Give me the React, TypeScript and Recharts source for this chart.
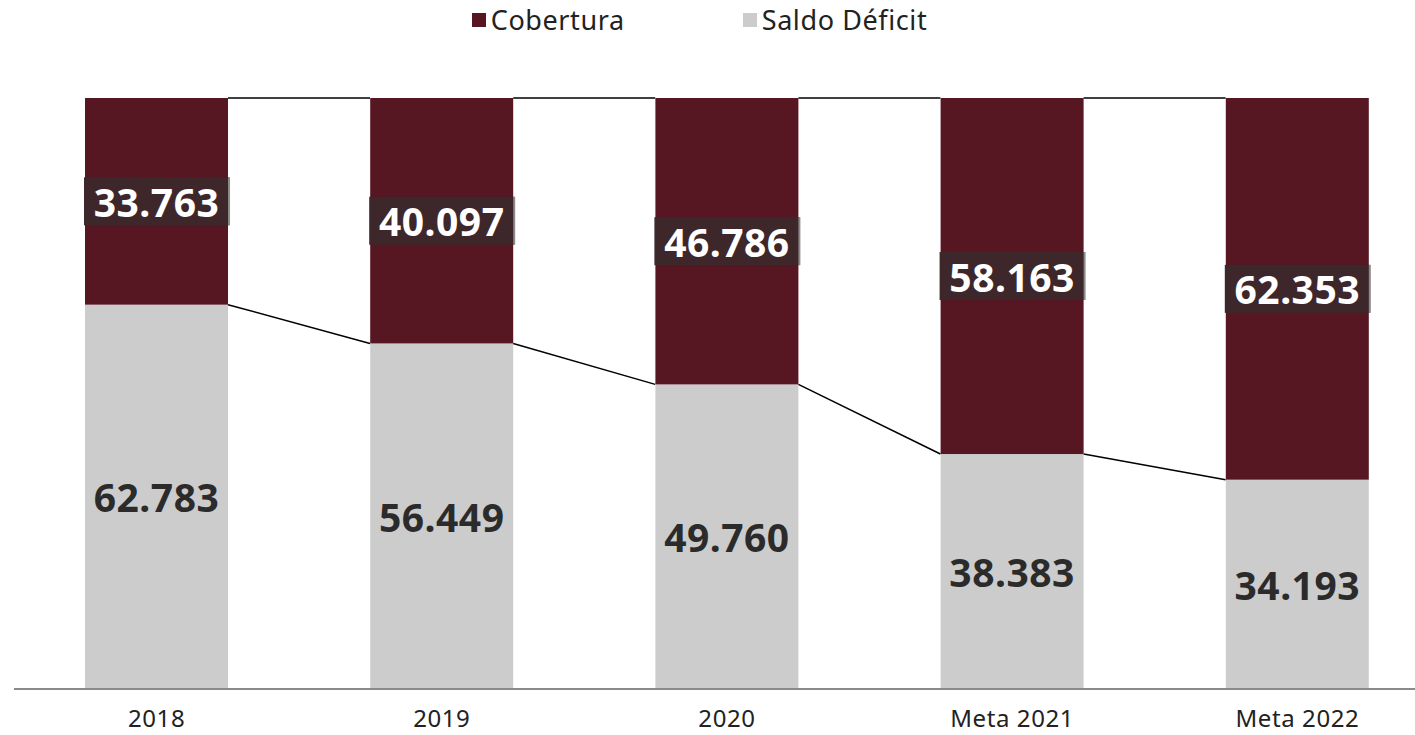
import { BarChart, Bar, XAxis, YAxis, LabelList } from 'recharts'

const years = ['2018', '2019', '2020', 'Meta 2021', 'Meta 2022']
const saldoDeficit = [62783, 56449, 49760, 38383, 34193]
const cobertura = [33763, 40097, 46786, 58163, 62353]

const data = years.map((name, i) => ({ name, saldo: saldoDeficit[i], cobertura: cobertura[i] }))

const GAP = 71
const FONT = '"Noto Sans", "Open Sans", sans-serif'
const fmt = (v: number) => String(v).replace(/\B(?=(\d{3})+(?!\d))/g, '.')

// bar + connector to the next bar's top edge
function SaldoShape(props: any) {
  const { x, y, width, height, index, fill } = props
  const next = saldoDeficit[index + 1]
  const base = y + height
  return (
    <g>
      <rect x={x} y={y} width={width} height={height} fill={fill} />
      {next !== undefined && (
        <line
          x1={x + width}
          y1={y}
          x2={x + width + 2 * GAP}
          y2={base - (height * next) / saldoDeficit[index]}
          stroke="#000"
          strokeWidth={1.5}
        />
      )}
    </g>
  )
}

function CoberturaShape(props: any) {
  const { x, y, width, height, index, fill } = props
  return (
    <g>
      <rect x={x} y={y} width={width} height={height} fill={fill} />
      {index < years.length - 1 && (
        <line x1={x + width} y1={y} x2={x + width + 2 * GAP} y2={y} stroke="#000" strokeWidth={1.5} />
      )}
    </g>
  )
}

function CobLabel(props: any) {
  const { x, y, width, height, value } = props
  const cy = y + height / 2
  return (
    <g>
      <rect x={x - 1} y={cy - 24} width={width + 2} height={48} fill="#3e272b" />
      <line x1={x + width + 1} y1={cy - 24} x2={x + width + 1} y2={cy + 24} stroke="#8a8a8a" strokeWidth={2} />
      <text x={x + width / 2} y={cy} textAnchor="middle" dominantBaseline="central" fill="#fff"
        fontSize={39} fontWeight={700} fontFamily={FONT} letterSpacing={0.5}>
        {fmt(value)}
      </text>
    </g>
  )
}

function SaldoLabel(props: any) {
  const { x, y, width, height, value } = props
  return (
    <text x={x + width / 2} y={y + height / 2} textAnchor="middle" dominantBaseline="central" fill="#2b2b2b"
      fontSize={39} fontWeight={700} fontFamily={FONT} letterSpacing={0.5}>
      {fmt(value)}
    </text>
  )
}

function LegendItem({ color, label }: { color: string; label: string }) {
  return (
    <span style={{ display: 'inline-flex', alignItems: 'center' }}>
      <span style={{ width: 14, height: 14, background: color, marginRight: 5, display: 'inline-block' }} />
      <span>{label}</span>
    </span>
  )
}

export default function App() {
  return (
    <div style={{ position: 'fixed', left: 0, top: 0, width: 1415, height: 735, overflow: 'hidden', background: '#fff' }}>
      <div
        style={{
          position: 'absolute', top: 1, left: 0, width: 1399, display: 'flex', justifyContent: 'center',
          gap: 118, fontFamily: FONT, fontSize: 27, color: '#222', letterSpacing: 0.6,
        }}
      >
        <LegendItem color="#561622" label="Cobertura" />
        <LegendItem color="#cccccc" label="Saldo Déficit" />
      </div>
      <BarChart
        width={1440}
        height={735}
        data={data}
        barCategoryGap={GAP}
        margin={{ top: 98, right: 0, left: 14, bottom: 0 }}
      >
        <XAxis
          dataKey="name"
          height={46}
          tickLine={false}
          axisLine={{ stroke: '#8a8a8a', strokeWidth: 2 }}
          tick={{ fontSize: 24, fill: '#222', fontFamily: FONT, letterSpacing: 0.6 }}
          tickMargin={15}
        />
        <YAxis hide domain={[0, 'dataMax']} />
        <Bar dataKey="saldo" stackId="a" fill="#cccccc" isAnimationActive={false} shape={SaldoShape}>
          <LabelList dataKey="saldo" content={SaldoLabel} />
        </Bar>
        <Bar dataKey="cobertura" stackId="a" fill="#561622" isAnimationActive={false} shape={CoberturaShape}>
          <LabelList dataKey="cobertura" content={CobLabel} />
        </Bar>
      </BarChart>
    </div>
  )
}
